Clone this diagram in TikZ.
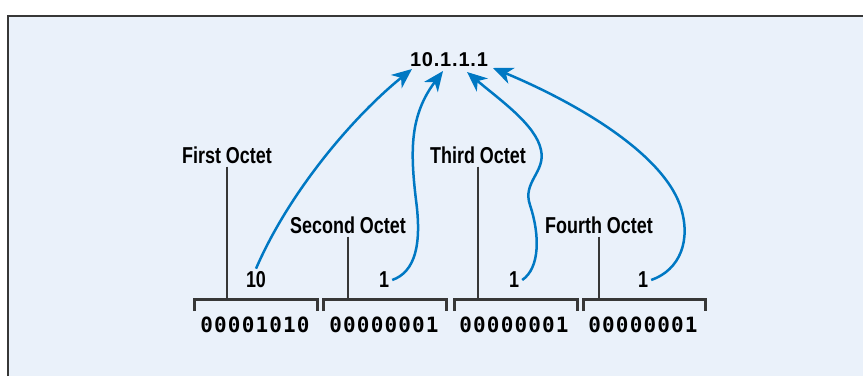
\documentclass[tikz,border=0pt]{standalone}
\usepackage{fontspec}
\usetikzlibrary{arrows.meta}
\newfontfamily\lblfont{Liberation Sans}[FakeStretch=0.78]
\newfontfamily\ipfont{Liberation Sans}[LetterSpace=4]
\newfontfamily\bitfont{DejaVu Sans Mono}[LetterSpace=5.5]
\definecolor{panel}{RGB}{234,241,250}
\definecolor{arrowblue}{RGB}{0,120,195}
\definecolor{rim}{RGB}{55,55,55}
\begin{document}
\begin{tikzpicture}[x=1pt,y=-1pt,
  label node/.style={font=\lblfont\bfseries\fontsize{23}{23}\selectfont,inner sep=3pt},
  ip node/.style={font=\ipfont\bfseries\fontsize{20}{20}\selectfont,inner sep=2pt},
  bits node/.style={font=\bitfont\bfseries\fontsize{21}{21}\selectfont,inner sep=1pt},
  stub/.style={draw=rim,line width=2pt},
  brk/.style={draw=rim,line width=3pt},
  arr/.style={draw=arrowblue,line width=2.5pt,-{Stealth[length=20pt,width=17pt,inset=6pt]}}]

  \useasboundingbox (0,0) rectangle (863,376);
  \fill[panel] (8,16) rectangle (863,376);
  \draw[rim,line width=1.5pt] (8,376) |- (863,16);

  \node[ip node] (ip) at (449,60){10.1.1.1};

  \node[label node] (f1) at (227,155){First Octet};
  \node[label node] (f2) at (348,225){Second Octet};
  \node[label node] (f3) at (478,155){Third Octet};
  \node[label node] (f4) at (599,225){Fourth Octet};

  \node[label node] (n1) at (256,280){10};
  \node[label node] (n2) at (384,280){1};
  \node[label node] (n3) at (514,280){1};
  \node[label node] (n4) at (643,280){1};

  \node[bits node] (b1) at (255,325){00001010};
  \node[bits node] (b2) at (384,325){00000001};
  \node[bits node] (b3) at (514,325){00000001};
  \node[bits node] (b4) at (643,325){00000001};

  % brackets over the octets
  \coordinate (k) at (0,299);
  \draw[brk] (194,311) |- (317,299) -- (317,311);
  \draw[brk] (323,311) |- (446,299) -- (446,311);
  \draw[brk] (454,311) |- (577,299) -- (577,311);
  \draw[brk] (583,311) |- (705,299) -- (705,311);

  \draw[stub] (f1.south) -- (f1.south |- k);
  \draw[stub] (f2.south) -- (f2.south |- k);
  \draw[stub] (f3.south) -- (f3.south |- k);
  \draw[stub] (f4.south) -- (f4.south |- k);

  % arrow tips under the address
  \coordinate (t1) at (412,69);
  \coordinate (t2) at (443,71);
  \coordinate (t3) at (467,72);
  \coordinate (t4) at (493,68);

  \draw[arr] (n1.north) .. controls (290,190) and (355,115) .. (t1);
  \draw[arr] (n2.east) .. controls (415,272) and (422,245) .. (416,200)
     .. controls (410,150) and (410,115) .. (t2);
  \draw[arr] (n3.east) .. controls (540,268) and (540,235) .. (530,205)
     .. controls (522,182) and (546,172) .. (541,150)
     .. controls (536,125) and (500,100) .. (t3);
  \draw[arr] (n4.east) .. controls (680,270) and (692,240) .. (680,205)
     .. controls (660,150) and (570,100) .. (t4);
\end{tikzpicture}
\end{document}
